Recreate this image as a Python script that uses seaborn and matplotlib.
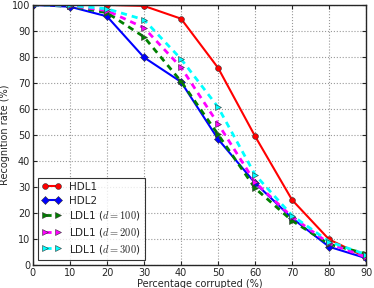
import numpy as np
import pandas as pd
import matplotlib
matplotlib.use("Agg")
import matplotlib.pyplot as plt
import seaborn as sns

# Daten
percentCorrupted = [0, 10, 20, 30, 40, 50, 60, 70, 80, 90]
hdl1 = [100, 100, 100, 99.6, 94.7, 75.8, 49.5, 25, 9.8, 3]
hdl2 = [100, 99.3, 95.6, 79.8, 70.4, 48.4, 31.5, 18, 7, 2.6]
ldl1_100 = [100, 99.5, 97, 87.7, 70.6, 50.2, 29.5, 17, 8, 4.3]
ldl1_200 = [100, 99.7, 97.8, 91.2, 76, 54.3, 31.8, 18.5, 8.3, 3]
ldl1_300 = [100, 99.8, 98.5, 94.3, 79.2, 60.7, 34.7, 19, 9, 4]

seriesNames = ["HDL1", "HDL2", r"LDL1 ($d=100$)", r"LDL1 ($d=200$)", r"LDL1 ($d=300$)"]
seriesValues = [hdl1, hdl2, ldl1_100, ldl1_200, ldl1_300]
colorList = ["red", "blue", "green", "magenta", "cyan"]
markerList = ["o", "D", ">", ">", ">"]
styleList = ["-", "-", (0, (2.2, 1.8)), (0, (2.2, 1.8)), (0, (2.2, 1.8))]

sns.set_style("ticks")
plt.rcParams["font.family"] = ["DejaVu Sans"]
plt.rcParams["mathtext.fontset"] = "cm"

fig = plt.figure(figsize=(3.74, 2.88), dpi=100)
ax = fig.add_axes([0.088, 0.080, 0.891, 0.903])

for name, values, color, marker, style in zip(seriesNames, seriesValues, colorList, markerList, styleList):
    df = pd.DataFrame({"x": percentCorrupted, "y": values})
    sns.lineplot(data=df, x="x", y="y", ax=ax, color=color, marker=marker,
                 linestyle=style, linewidth=1.5 if style == "-" else 2,
                 markersize=4.2, markeredgecolor="#333333", markeredgewidth=0.4,
                 label=name)

ax.set_xlim(0, 90)
ax.set_ylim(0, 100)
ax.set_xticks(range(0, 91, 10))
ax.set_yticks(range(0, 101, 10))
ax.grid(True, linestyle=":", color="#999999", linewidth=0.8)
ax.tick_params(direction="in", top=True, right=True, labelsize=7, length=3, pad=2)
ax.set_xlabel("Percentage corrupted (%)", fontsize=7, labelpad=1)
ax.set_ylabel("Recognition rate (%)", fontsize=7, labelpad=1)
for spine in ax.spines.values():
    spine.set_linewidth(1)

leg = ax.legend(loc="lower left", fontsize=7.5, frameon=True, fancybox=False,
                numpoints=2, handlelength=1.8, borderpad=0.4, labelspacing=0.35,
                bbox_to_anchor=(0.0, 0.0))
leg.get_frame().set_edgecolor("black")
leg.get_frame().set_linewidth(0.8)

fig.savefig("out.png", dpi=100)
